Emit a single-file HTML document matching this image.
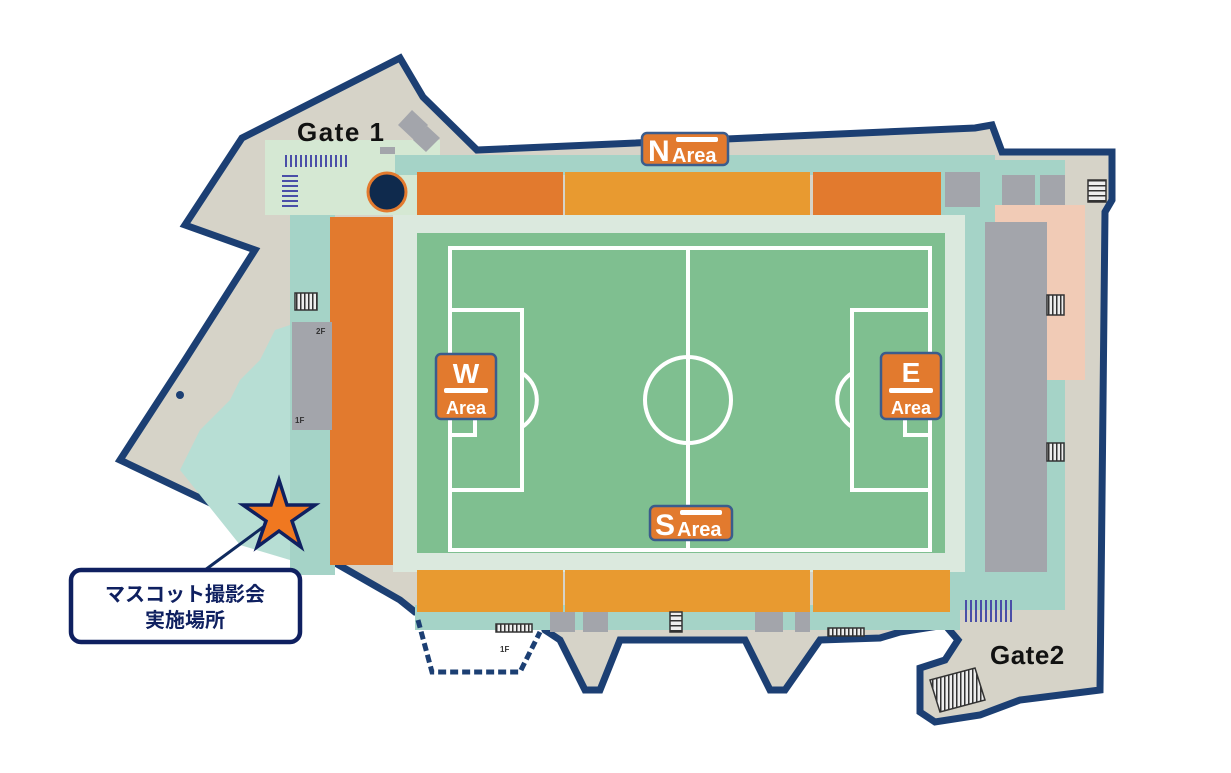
<!DOCTYPE html>
<html><head><meta charset="utf-8"><style>
html,body{margin:0;padding:0;background:#fff;}
svg{display:block}
text{font-family:"Liberation Sans","Noto Sans CJK JP",sans-serif;}
</style></head><body>
<svg width="1231" height="773" viewBox="0 0 1231 773" xmlns="http://www.w3.org/2000/svg">
<defs>
<pattern id="vs" width="5" height="10" patternUnits="userSpaceOnUse"><rect width="2" height="12" fill="#4a4ea8"/></pattern>
<pattern id="hs" width="10" height="5" patternUnits="userSpaceOnUse"><rect width="12" height="2" fill="#4a4ea8"/></pattern>
<pattern id="st" width="4" height="10" patternUnits="userSpaceOnUse"><rect width="4" height="10" fill="#eee"/><rect width="1.5" height="10" fill="#333"/></pattern>
<pattern id="sth" width="10" height="5" patternUnits="userSpaceOnUse"><rect width="10" height="5" fill="#eee"/><rect width="10" height="1.5" fill="#333"/></pattern>
</defs>
<polygon points="242,138 400,58 423,97 477,150 975,128 992,125 1002,152 1112,152 1112,200 1105,212 1100,690 1020,700 980,715 935,722 920,712 920,668 945,660 958,640 945,625 900,632 880,638 820,640 785,690 770,690 745,640 650,640 620,640 600,690 585,690 560,640 545,630 540,618 415,612 400,600 330,560 120,460 185,360 255,250 185,225" fill="#d6d3c8" stroke="#1c3f73" stroke-width="7" stroke-linejoin="miter"/>
<rect x="265" y="140" width="175" height="75" fill="#d5e8d3"/>
<rect x="290" y="215" width="45" height="360" fill="#a5d3c7"/>
<polygon points="180,470 200,430 230,400 240,380 260,360 275,330 290,325 290,560 240,545" fill="#b7ded4"/>
<rect x="395" y="155" width="600" height="20" fill="#a5d3c7"/>
<rect x="940" y="160" width="125" height="450" fill="#a5d3c7"/>
<rect x="995" y="205" width="90" height="175" fill="#f1cbb6"/>
<rect x="415" y="605" width="545" height="25" fill="#a5d3c7"/>
<rect x="393" y="215" width="572" height="357" fill="#dbe9de"/>
<rect x="417" y="233" width="528" height="320" fill="#7fbf90"/>
<g fill="none" stroke="#fff" stroke-width="4">
<rect x="450" y="248" width="480" height="302"/>
<line x1="688" y1="248" x2="688" y2="550"/>
<circle cx="688" cy="400" r="43"/>
<rect x="450" y="310" width="72" height="180"/>
<rect x="450" y="360" width="25" height="75"/>
<path d="M522 373 A32 32 0 0 1 522 427"/>
<rect x="852" y="310" width="78" height="180"/>
<rect x="905" y="360" width="25" height="75"/>
<path d="M852 373 A32 32 0 0 0 852 427"/>
</g>
<rect x="417" y="172" width="146" height="43" fill="#e27a2e"/>
<rect x="565" y="172" width="245" height="43" fill="#e89a30"/>
<rect x="813" y="172" width="128" height="43" fill="#e27a2e"/>
<rect x="330" y="217" width="63" height="348" fill="#e27a2e"/>
<rect x="417" y="570" width="146" height="42" fill="#e89a30"/>
<rect x="565" y="570" width="245" height="42" fill="#e89a30"/>
<rect x="813" y="570" width="137" height="42" fill="#e89a30"/>
<rect x="985" y="222" width="62" height="350" fill="#a3a5ab"/>
<rect x="945" y="172" width="35" height="35" fill="#a3a5ab"/>
<rect x="1002" y="175" width="33" height="30" fill="#a3a5ab"/>
<rect x="1040" y="175" width="25" height="30" fill="#a3a5ab"/>
<rect x="292" y="322" width="40" height="108" fill="#a3a5ab"/>
<rect x="550" y="612" width="25" height="20" fill="#a3a5ab"/>
<rect x="583" y="612" width="25" height="20" fill="#a3a5ab"/>
<rect x="755" y="612" width="28" height="20" fill="#a3a5ab"/>
<rect x="795" y="612" width="15" height="20" fill="#a3a5ab"/>
<polygon points="398,125 412,110 428,125 414,140" fill="#a3a5ab"/>
<polygon points="413,140 427,126 440,138 426,152" fill="#a3a5ab"/>
<rect x="380" y="147" width="15" height="7" fill="#a3a5ab"/>
<rect x="282" y="155" width="68" height="12" fill="url(#vs)"/>
<rect x="282" y="172" width="16" height="35" fill="url(#hs)"/>
<rect x="965" y="600" width="50" height="22" fill="url(#vs)"/>
<g stroke="#333" stroke-width="1.5">
<rect x="295" y="293" width="22" height="17" fill="url(#st)"/>
<rect x="1047" y="295" width="17" height="20" fill="url(#st)"/>
<rect x="1047" y="443" width="17" height="18" fill="url(#st)"/>
<rect x="1088" y="180" width="18" height="22" fill="url(#sth)"/>
<rect x="496" y="624" width="36" height="8" fill="url(#st)"/>
<rect x="828" y="628" width="36" height="8" fill="url(#st)"/>
<rect x="670" y="612" width="12" height="20" fill="url(#sth)"/>
<polygon points="930,680 975,668 985,700 940,712" fill="url(#st)"/>
</g>
<text x="316" y="334" font-size="8" font-weight="bold" fill="#333">2F</text>
<text x="295" y="423" font-size="8" font-weight="bold" fill="#333">1F</text>
<text x="500" y="652" font-size="8" font-weight="bold" fill="#333">1F</text>
<polyline points="418,620 432,672 520,672 540,632" fill="none" stroke="#1c3f73" stroke-width="5" stroke-dasharray="8,4"/>
<circle cx="387" cy="192" r="19" fill="#0f2a4d" stroke="#e27a2e" stroke-width="3"/>
<text x="297" y="141" font-size="26" font-weight="bold" fill="#111" letter-spacing="1.5">Gate 1</text>
<text x="990" y="664" font-size="26" font-weight="bold" fill="#111" letter-spacing="0.5">Gate2</text>
<g>
<rect x="642" y="133" width="86" height="32" rx="5" fill="#e27a2e" stroke="#3b5c8c" stroke-width="2.5"/>
<text x="648" y="161" font-size="30" font-weight="bold" fill="#fff">N</text>
<text x="672" y="162" font-size="20" font-weight="bold" fill="#fff">Area</text>
<rect x="676" y="137" width="42" height="5" rx="2" fill="#fff"/>
</g>
<g>
<rect x="436" y="354" width="60" height="65" rx="5" fill="#e27a2e" stroke="#3b5c8c" stroke-width="2.5"/>
<text x="466" y="383" font-size="28" font-weight="bold" fill="#fff" text-anchor="middle">W</text>
<rect x="444" y="388" width="44" height="5" rx="2" fill="#fff"/>
<text x="466" y="414" font-size="18" font-weight="bold" fill="#fff" text-anchor="middle">Area</text>
</g>
<g>
<rect x="881" y="353" width="60" height="66" rx="5" fill="#e27a2e" stroke="#3b5c8c" stroke-width="2.5"/>
<text x="911" y="382" font-size="28" font-weight="bold" fill="#fff" text-anchor="middle">E</text>
<rect x="889" y="388" width="44" height="5" rx="2" fill="#fff"/>
<text x="911" y="414" font-size="18" font-weight="bold" fill="#fff" text-anchor="middle">Area</text>
</g>
<g>
<rect x="650" y="506" width="82" height="34" rx="5" fill="#e27a2e" stroke="#3b5c8c" stroke-width="2.5"/>
<text x="655" y="535" font-size="30" font-weight="bold" fill="#fff">S</text>
<text x="677" y="536" font-size="20" font-weight="bold" fill="#fff">Area</text>
<rect x="680" y="510" width="42" height="5" rx="2" fill="#fff"/>
</g>
<line x1="205" y1="570" x2="270" y2="522" stroke="#0f2a5e" stroke-width="3"/>
<rect x="71" y="570" width="229" height="72" rx="10" fill="#fff" stroke="#0f2060" stroke-width="4.5"/>
<text x="185" y="601" font-size="20" font-weight="bold" fill="#0f2060" text-anchor="middle">マスコット撮影会</text>
<text x="185" y="627" font-size="20" font-weight="bold" fill="#0f2060" text-anchor="middle">実施場所</text>
<polygon points="279,480 287,505 315,505 292,521 301,547 279,531 257,547 266,521 243,505 271,505" fill="#f07820" stroke="#0f2060" stroke-width="3.5" stroke-linejoin="miter"/>
<circle cx="180" cy="395" r="4" fill="#1c3f73"/>
</svg>
</body></html>
